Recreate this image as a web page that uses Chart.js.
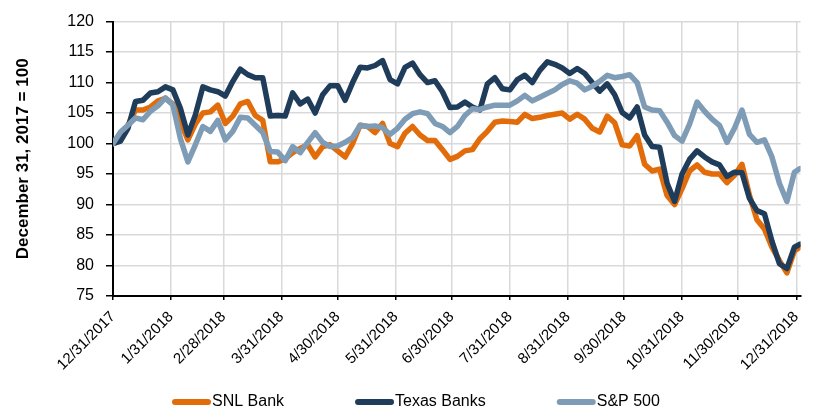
<!DOCTYPE html>
<html>
<head>
<meta charset="utf-8">
<script src="https://cdn.jsdelivr.net/npm/chart.js@4.4.1/dist/chart.umd.min.js"></script>
<style>
  html, body { margin: 0; padding: 0; background: #fff; }
</style>
</head>
<body>
<canvas id="indexChart" width="817" height="409"></canvas>
<script>
// days since 12/31/2017
const days = [
  0, 4, 8, 12, 16, 20, 24, 28, 32, 36,
  40, 44, 48, 52, 56, 60, 64, 68, 72, 76,
  80, 84, 88, 92, 96, 100, 104, 108, 112, 116,
  120, 124, 128, 132, 136, 140, 144, 148, 152, 156,
  160, 164, 168, 172, 176, 180, 184, 188, 192, 196,
  200, 204, 208, 212, 216, 220, 224, 228, 232, 236,
  240, 244, 248, 252, 256, 260, 264, 268, 272, 276,
  280, 284, 288, 292, 296, 300, 304, 308, 312, 316,
  320, 324, 328, 332, 336, 340, 344, 348, 352, 356,
  360, 364, 367
];

const snlBank = [
  100, 100.8, 103, 105.5, 105.5, 106, 107, 107.4, 106.5, 103.6,
  100.6, 103.2, 105, 105.2, 106.3, 103.3, 104.5, 106.5, 106.9, 104.6,
  103.8, 97, 97, 97.5, 98.5, 99.2, 99.8, 97.8, 99.5, 99.8,
  98.8, 97.8, 100, 103, 102.8, 101.8, 103.3, 100, 99.5, 101.7,
  102.8, 101.4, 100.5, 100.5, 99, 97.4, 97.9, 98.8, 99, 100.8,
  102, 103.5, 103.7, 103.6, 103.5, 104.8, 104.1, 104.3, 104.6, 104.8,
  105, 104, 104.8, 104, 102.5, 101.9, 104.5, 103.4, 99.8, 99.6,
  101.3, 96.6, 95.5, 95.8, 91.5, 90, 92.6, 95.5, 96.5, 95.3,
  95, 95, 93.6, 94.8, 96.6, 91.5, 87.5, 86, 83, 80.8,
  78.8, 82.4, 83
];

const texasBanks = [
  100, 100.4, 102.5, 106.9, 107.1, 108.3, 108.5, 109.3, 108.8, 105.8,
  101.4, 104.7, 109.3, 108.8, 108.5, 107.8, 110.2, 112.2, 111.3, 110.8,
  110.8, 104.5, 104.6, 104.5, 108.3, 106.5, 107.3, 105, 108, 109.5,
  109.5, 107.1, 110, 112.5, 112.4, 112.8, 113.6, 110.5, 109.8, 112.5,
  113.2, 111.3, 110, 110.3, 108.5, 105.9, 106, 106.8, 106, 105.5,
  109.8, 110.8, 109, 108.8, 110.5, 111.2, 110, 112, 113.4, 113,
  112.4, 111.5, 112.3, 111.5, 110, 108.6, 109.8, 108, 105.1, 104.2,
  106, 101.4, 99.5, 99.4, 93.5, 90.5, 95, 97.4, 98.8, 97.8,
  97, 96.5, 94.6, 95.3, 95.2, 91, 89, 88.5, 84, 80.3,
  79.5, 83, 83.5
];

const sp500 = [
  100, 101.9, 103, 104.2, 103.9, 105.3, 106.2, 107.5, 106.3, 100.8,
  97, 99.8, 102.8, 102, 103.8, 100.6, 102, 104.3, 104.2, 103,
  101.8, 98.7, 98.6, 97.2, 99.5, 98.5, 100.2, 101.8, 100.2, 99.5,
  99.6, 100.2, 101, 103, 102.8, 102.9, 102.6, 101.5, 102.5, 104,
  104.9, 105.2, 104.9, 103.3, 102.8, 101.8, 102.8, 104.6, 105.7, 105.6,
  106, 106.3, 106.3, 106.3, 107, 107.9, 107, 107.6, 108.2, 108.8,
  109.7, 110.3, 109.9, 108.8, 109.4, 110.2, 111.2, 110.8, 111, 111.3,
  110, 106, 105.5, 105.4, 103.5, 101.3, 100.4, 103.2, 106.8, 105.3,
  104, 103, 100.2, 102.5, 105.5, 101.5, 100.2, 100.6, 97.8, 93.5,
  90.5, 95.3, 95.9
];

const tickDays = [0, 31, 59, 90, 120, 151, 181, 212, 243, 273, 304, 334, 365];
const tickLabels = [
  '12/31/2017', '1/31/2018', '2/28/2018', '3/31/2018', '4/30/2018', '5/31/2018',
  '6/30/2018', '7/31/2018', '8/31/2018', '9/30/2018', '10/31/2018', '11/30/2018', '12/31/2018'
];

const FONT = '"Liberation Sans", Arial, sans-serif';
Chart.defaults.font.family = FONT;
Chart.defaults.color = '#000';

const toPoints = vals => days.map((d, i) => ({ x: d, y: vals[i] }));

// legend drawn under the axis labels, line-style markers
const bottomLegend = {
  id: 'bottomLegend',
  afterDraw(chart) {
    const ctx = chart.ctx;
    let x = 172;
    const y = 402;
    ctx.save();
    ctx.font = '16px ' + FONT;
    ctx.textBaseline = 'middle';
    chart.data.datasets.forEach(ds => {
      ctx.strokeStyle = ds.borderColor;
      ctx.lineWidth = 6;
      ctx.lineCap = 'round';
      ctx.beginPath();
      ctx.moveTo(x + 3, y);
      ctx.lineTo(x + 36, y);
      ctx.stroke();
      ctx.fillStyle = '#000';
      ctx.fillText(ds.label, x + 40, y);
      x += 40 + ctx.measureText(ds.label).width + 71;
    });
    ctx.restore();
  }
};

const ctx = document.getElementById('indexChart').getContext('2d');
const indexChart = new Chart(ctx, {
  type: 'line',
  data: {
    datasets: [{
      label: 'SNL Bank',
      data: toPoints(snlBank),
      borderColor: '#E36C0A',
      order: 3
    }, {
      label: 'Texas Banks',
      data: toPoints(texasBanks),
      borderColor: '#1F3D5A',
      order: 2
    }, {
      label: 'S&P 500',
      data: toPoints(sp500),
      borderColor: '#7F9CB7',
      order: 1
    }]
  },
  options: {
    responsive: false,
    animation: false,
    layout: {
      padding: { top: 20, right: 1, bottom: 0, left: 0 }
    },
    elements: {
      point: { radius: 0 },
      line: {
        borderWidth: 5.5,
        tension: 0,
        borderJoinStyle: 'round',
        borderCapStyle: 'round'
      }
    },
    plugins: {
      legend: { display: false },
      tooltip: { enabled: false }
    },
    scales: {
      x: {
        type: 'linear',
        min: 0,
        max: 367.3,
        afterBuildTicks: scale => {
          scale.ticks = tickDays.map(v => ({ value: v }));
        },
        afterFit: scale => { scale.height = 113; },
        ticks: {
          autoSkip: false,
          minRotation: 45,
          maxRotation: 45,
          padding: 8,
          font: { size: 15 },
          color: '#000',
          callback: (value, index) => tickLabels[index]
        },
        grid: {
          color: '#d9d9d9',
          lineWidth: 1.5,
          tickLength: 4,
          tickColor: '#000',
          tickWidth: 1.5
        },
        border: { color: '#000', width: 2 }
      },
      y: {
        min: 75,
        max: 120,
        afterFit: scale => { scale.width = 113; },
        ticks: {
          stepSize: 5,
          padding: 12,
          font: { size: 16 },
          color: '#000'
        },
        grid: {
          color: '#d9d9d9',
          lineWidth: 1.5,
          tickLength: 7,
          tickColor: '#000',
          tickWidth: 1.5
        },
        border: { color: '#000', width: 2 },
        title: {
          display: true,
          text: 'December 31, 2017 = 100',
          font: { size: 17, weight: 'bold' },
          color: '#000',
          padding: { top: 13, bottom: 0 }
        }
      }
    }
  },
  plugins: [bottomLegend]
});
</script>
</body>
</html>
